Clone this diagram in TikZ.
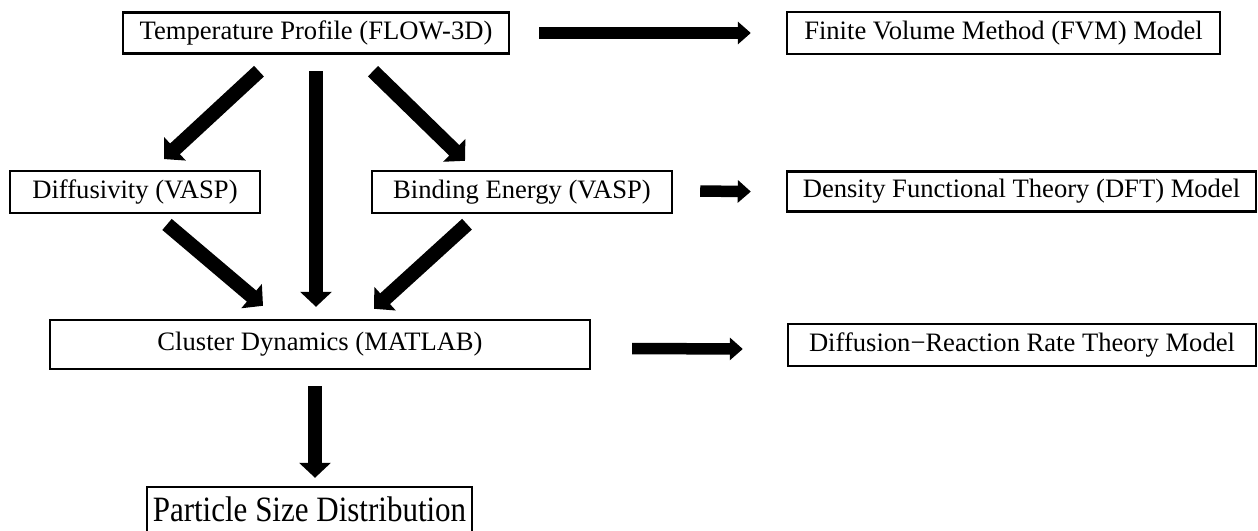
\documentclass[tikz,border=0pt]{standalone}
\usepackage{fontspec}
\usepackage{graphicx}
\setmainfont{Liberation Serif}
\usetikzlibrary{arrows.meta,calc}

\newcommand{\tallword}[1]{\scalebox{1}[1.15]{#1}}

\begin{document}
\begin{tikzpicture}[x=0.5pt,y=-0.5pt,
        box/.style={draw,line width=1.2pt,inner sep=0pt,font=\fontsize{13.3}{16}\selectfont},
        fat/.style={line width=7.25pt,-{Triangle[length=7.5pt,width=15.5pt]}},
        flat/.style={line width=5.75pt,-{Triangle[length=6.5pt,width=11pt]}}]
    \useasboundingbox (0,0) rectangle (1258,530);
    % boxes
    \node[box,minimum width=193pt,minimum height=20.5pt] (temp) at (316,33) {Temperature Profile (FLOW-3D)};
    \node[box,minimum width=216.5pt,minimum height=21pt] (fvm) at (1003.5,33) {Finite Volume Method (FVM) Model};
    \node[box,minimum width=125pt,minimum height=20.75pt] (diff) at (135,192) {Diffusivity (VASP)};
    \node[box,minimum width=150pt,minimum height=21pt] (bind) at (522,192) {Binding Energy (VASP)};
    \node[box,minimum width=234.5pt,minimum height=20pt] (dft) at (1021.5,191.6) {Density Functional Theory (DFT) Model};
    \node[box,minimum width=270pt,minimum height=24.5pt] (clus) at (320,344.5) {Cluster Dynamics (MATLAB)};
    \node[box,minimum width=234pt,minimum height=21pt] (drrt) at (1022,345) {Diffusion{\char"2212}Reaction Rate Theory Model};
    \node[box,minimum width=162.5pt,minimum height=22.5pt,font=\fontsize{15.5}{18}\selectfont] (part) at (309.5,509.5) {\tallword{Particle Size Distribution}};
    % arrows
    \draw[flat] ($(temp.east)+(29,0)$) -- ($(fvm.west)+(-35,0)$);
    \draw[flat] ($(bind.east)+(27,-1)$) -- ($(dft.west)+(-35,0)$);
    \draw[flat] ($(clus.east)+(41,4)$) -- ($(drrt.west)+(-44,4)$);
    \draw[fat] ($(temp.south)+(-57,16.5)$) -- ($(diff.north)+(29,-11)$);
    \draw[fat] ($(temp.south)+(0,16.5)$) -- ($(temp.south |- clus.north)+(0,-12)$);
    \draw[fat] ($(temp.south)+(57,16.5)$) -- ($(bind.north)+(-57,-9)$);
    \draw[fat] ($(diff.south)+(32,10.5)$) -- ($(clus.north)+(-57,-13)$);
    \draw[fat] ($(bind.south)+(-55,10)$) -- ($(clus.north)+(54,-10)$);
    \draw[fat] ($(clus.south)+(-5,16)$) -- ($(part.north)+(5.5,-8)$);
\end{tikzpicture}
\end{document}
